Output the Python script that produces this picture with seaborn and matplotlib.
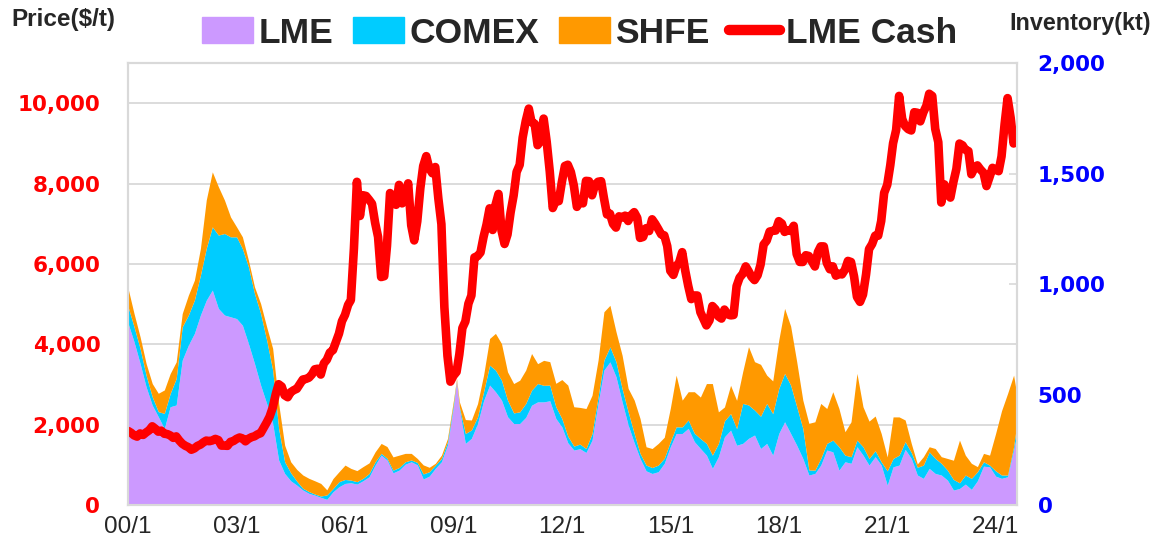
import numpy as np
import pandas as pd
import seaborn as sns
import matplotlib.pyplot as plt
from matplotlib.transforms import blended_transform_factory
from matplotlib.patches import Patch
from matplotlib.lines import Line2D

sns.set_theme(style="white")
plt.rcParams['font.family'] = ['DejaVu Sans']
NARROW = ['Liberation Sans', 'DejaVu Sans']

# LME cash copper price, monthly average ($/t), 2000/1 - 2024/8
price = [
    1845, 1798, 1736, 1704, 1783, 1747, 1808, 1862, 1960, 1902, 1828, 1852,  # 2000
    1776, 1766, 1734, 1674, 1710, 1608, 1528, 1476, 1441, 1378, 1411, 1471,  # 2001
    1505, 1563, 1605, 1590, 1609, 1647, 1617, 1481, 1480, 1475, 1574, 1595,  # 2002
    1648, 1682, 1660, 1588, 1650, 1690, 1712, 1760, 1790, 1922, 2055, 2200,  # 2003
    2424, 2760, 3008, 2950, 2733, 2685, 2810, 2860, 2895, 3010, 3125, 3140,  # 2004
    3170, 3254, 3379, 3394, 3249, 3528, 3617, 3797, 3857, 4059, 4269, 4577,  # 2005
    4734, 4982, 5103, 6388, 8046, 7197, 7712, 7694, 7600, 7500, 7029, 6675,  # 2006
    5676, 5697, 6452, 7766, 7665, 7474, 7970, 7510, 7650, 8008, 6963, 6587,  # 2007
    7061, 7888, 8439, 8685, 8383, 8260, 8414, 7632, 6991, 4926, 3717, 3072,  # 2008
    3221, 3315, 3750, 4407, 4569, 5014, 5216, 6165, 6196, 6288, 6676, 6982,  # 2009
    7386, 6848, 7463, 7745, 6838, 6499, 6735, 7284, 7709, 8292, 8470, 9147,  # 2010
    9556, 9868, 9530, 9493, 8959, 9067, 9619, 9040, 8300, 7394, 7581, 7565,  # 2011
    8040, 8441, 8471, 8289, 7955, 7423, 7584, 7510, 8069, 8062, 7711, 7966,  # 2012
    8047, 8061, 7646, 7234, 7253, 7000, 6907, 7187, 7159, 7203, 7071, 7215,  # 2013
    7291, 7149, 6650, 6674, 6891, 6821, 7113, 7002, 6872, 6738, 6713, 6446,  # 2014
    5831, 5729, 5940, 6042, 6295, 5833, 5457, 5127, 5217, 5216, 4801, 4639,  # 2015
    4472, 4599, 4954, 4873, 4696, 4642, 4866, 4750, 4722, 4731, 5450, 5660,  # 2016
    5755, 5941, 5825, 5684, 5600, 5720, 5985, 6485, 6583, 6808, 6825, 6834,  # 2017
    7066, 7007, 6799, 6838, 6825, 6951, 6248, 6052, 6051, 6219, 6199, 6073,  # 2018
    5939, 6300, 6439, 6438, 6029, 5869, 5942, 5710, 5759, 5741, 5860, 6077,  # 2019
    6050, 5687, 5183, 5058, 5239, 5741, 6371, 6497, 6705, 6704, 7070, 7772,  # 2020
    7971, 8460, 9005, 9336, 10184, 9612, 9433, 9357, 9324, 9778, 9765, 9551,  # 2021
    9776, 9941, 10238, 10183, 9363, 9033, 7531, 7982, 7746, 7653, 8045, 8367,  # 2022
    8998, 8954, 8846, 8811, 8234, 8386, 8455, 8353, 8270, 7940, 8165, 8394,  # 2023
    8344, 8311, 8679, 9480, 10129, 9640, 9000, 9250,  # 2024
]

# exchange inventories (kt), every other month plus 2009/2 and 2024/8
lme = [
    822, 739, 641, 535, 452, 400,
    347, 445, 453, 656, 724, 777,
    860, 927, 973, 890, 860, 852,
    844, 814, 731, 641, 543, 460,
    370, 204, 143, 110, 90, 68,
    53, 45, 35, 26, 60, 83,
    98, 101, 95, 110, 128, 181,
    226, 204, 146, 158, 185, 196,
    182, 118, 131, 166, 196, 271,
    445, 562, 437, 279, 302, 369, 472,
    543, 513, 475, 400, 369, 369,
    397, 452, 467, 467, 472, 392,
    354, 282, 249, 255, 238, 294,
    460, 611, 648, 581, 467, 362,
    282, 211, 155, 143, 151, 189,
    264, 324, 324, 347, 287, 256,
    226, 166, 219, 309, 339, 271,
    279, 302, 317, 256, 279, 226,
    324, 377, 324, 271, 211, 136,
    143, 181, 249, 241, 158, 196,
    189, 264, 226, 181, 219, 181,
    90, 173, 181, 252, 211, 136,
    121, 166, 143, 136, 113, 68,
    75, 95, 71, 110, 176, 173,
    131, 121, 128, 249, 317,
]
comex = [
    75, 68, 68, 53, 38, 23,
    68, 60, 120, 151, 136, 151,
    181, 235, 286, 332, 369, 362,
    370, 347, 347, 317, 324, 287,
    241, 143, 53, 36, 18, 8,
    8, 5, 6, 20, 15, 23,
    18, 12, 11, 11, 15, 15,
    8, 8, 12, 12, 11, 8,
    11, 23, 20, 15, 15, 15,
    15, 3, 8, 45, 38, 30, 41,
    90, 98, 90, 75, 48, 53,
    63, 68, 83, 75, 71, 53,
    38, 30, 18, 21, 18, 30,
    30, 45, 68, 68, 60, 60,
    42, 23, 26, 27, 30, 23,
    23, 30, 30, 38, 38, 45,
    53, 60, 60, 72, 75, 75,
    181, 151, 113, 146, 181, 188,
    204, 219, 219, 175, 136, 23,
    15, 30, 30, 53, 106, 30,
    30, 30, 38, 30, 27, 15,
    65, 38, 45, 35, 27, 35,
    60, 75, 68, 53, 45, 48,
    26, 41, 50, 41, 20, 8,
    24, 15, 8, 15, 45,
]
shfe = [
    83, 60, 53, 53, 60, 83,
    106, 90, 75, 60, 90, 90,
    121, 219, 249, 219, 151, 90,
    45, 53, 30, 30, 45, 60,
    98, 113, 75, 50, 53, 60,
    60, 60, 57, 23, 45, 45,
    65, 53, 50, 53, 48, 45,
    45, 53, 60, 56, 38, 30,
    18, 41, 20, 8, 15, 15,
    15, 8, 23, 63, 45, 60, 75,
    121, 166, 166, 128, 133, 143,
    151, 166, 90, 113, 106, 106,
    176, 231, 178, 166, 181, 173,
    166, 219, 188, 136, 151, 106,
    151, 158, 83, 86, 98, 95,
    151, 234, 121, 128, 188, 188,
    271, 324, 143, 63, 128, 128,
    143, 264, 219, 235, 128, 148,
    219, 294, 267, 204, 128, 211,
    219, 249, 158, 219, 173, 106,
    158, 302, 181, 169, 157, 128,
    63, 188, 173, 98, 41, 15,
    38, 23, 45, 30, 53, 87,
    193, 90, 68, 23, 38, 45,
    169, 291, 369, 324, 143,
]

price_ticks = [0, 2000, 4000, 6000, 8000, 10000]
inv_ticks = [0, 500, 1000, 1500, 2000]
year_ticks = list(range(2000, 2025, 3))
series_names = ["LME", "COMEX", "SHFE", "LME Cash"]
colors = ["#cc99ff", "#00ccff", "#ff9900", "#ff0000"]

price_dates = pd.date_range("2000-01-01", periods=len(price), freq="MS")
inv_dates = (pd.date_range("2000-01-01", "2024-07-01", freq="2MS")
             .append(pd.DatetimeIndex(["2009-02-01", "2024-08-01"]))
             .sort_values())

fig = plt.figure(figsize=(11.54, 5.49), dpi=100)
ax = fig.add_axes([0.111, 0.080, 0.770, 0.805])
ax2 = ax.twinx()
# price line on top of the inventory areas
ax.set_zorder(2)
ax.patch.set_visible(False)
ax2.set_zorder(1)

# price gridlines sit behind the areas
grid_tf = blended_transform_factory(ax2.transAxes, ax.transData)
ax2.hlines(price_ticks[1:], 0, 1, transform=grid_tf, colors="#d9d9d9", lw=1.3, zorder=0.5)

ax2.stackplot(inv_dates, lme, comex, shfe, colors=colors[:3], linewidth=0, zorder=1)
sns.lineplot(x=price_dates, y=price, ax=ax, color=colors[3], lw=6.2, legend=False)

ax.set_xlim(price_dates[0], price_dates[-1])
ax.set_ylim(0, 11000)
ax2.set_ylim(0, 2000)

ax.set_yticks(price_ticks)
ax.set_yticklabels([f"{v:,}" for v in price_ticks], color="#ff0000",
                   fontweight="bold", fontsize=15.5)
ax.tick_params(axis="y", length=0, pad=20)

ax2.set_yticks(inv_ticks)
ax2.set_yticklabels([f"{v:,}" for v in inv_ticks], color="#0000ff",
                    fontweight="bold", fontsize=15.5)
ax2.tick_params(axis="y", direction="in", length=6, width=1.2, color="#d9d9d9", pad=15)

xt = pd.to_datetime([f"{y}-01-01" for y in year_ticks])
ax.set_xticks(xt)
ax.set_xticklabels([f"{y % 100:02d}/1" for y in year_ticks], family=NARROW, fontsize=17.5)
ax.tick_params(axis="x", direction="in", length=6, width=1.2, color="#d9d9d9", pad=8)
ax.set_xlabel("")
ax.set_ylabel("")
ax2.set_ylabel("")

for a in (ax, ax2):
    for sp in a.spines.values():
        sp.set_color("#d9d9d9")
        sp.set_linewidth(1.5)

fig.text(0.010, 0.985, "Price($/t)", family=NARROW, fontweight="bold", fontsize=17.5, va="top")
fig.text(0.997, 0.978, "Inventory(kt)", family=NARROW, fontweight="bold", fontsize=16.8,
         va="top", ha="right")

handles = [Patch(color=c) for c in colors[:3]] + [Line2D([], [], color=colors[3], lw=7.5)]
fig.legend(handles, series_names, loc="upper center", bbox_to_anchor=(0.502, 1.028), ncol=4,
           frameon=False, prop={"family": NARROW, "weight": "bold", "size": 25.5},
           handlelength=1.45, handleheight=0.75, handletextpad=0.15, columnspacing=0.55)

fig.savefig("out.png", dpi=100)
